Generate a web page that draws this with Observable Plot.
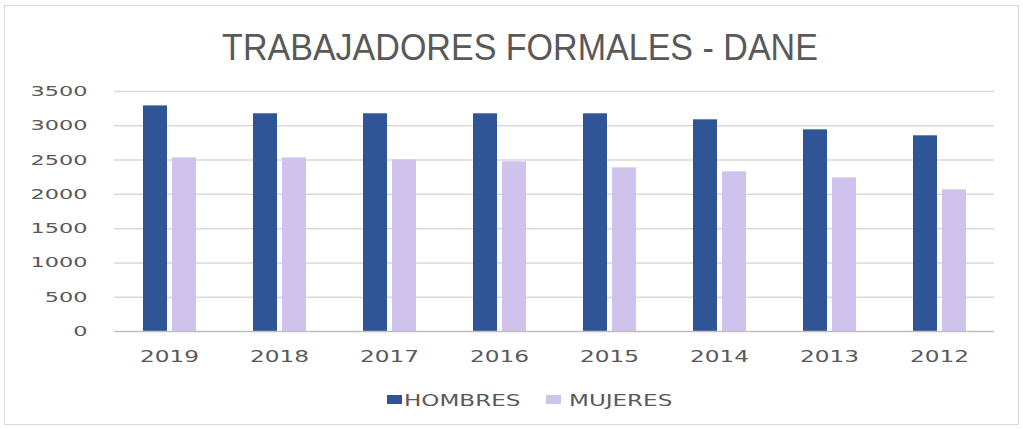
<!DOCTYPE html>
<html>
<head>
<meta charset="utf-8">
<script src="https://cdn.jsdelivr.net/npm/d3@7"></script>
<script src="https://cdn.jsdelivr.net/npm/@observablehq/plot@0.6"></script>
<style>
  html, body { margin: 0; padding: 0; background: #fff; }
  #wrap { position: relative; width: 1023px; height: 429px; overflow: hidden; font-family: "DejaVu Sans", sans-serif; }
  #frame { position: absolute; left: 4px; top: 5px; width: 1013px; height: 418px; border: 1px solid #d9d9d9; }
  #title { position: absolute; left: 0; width: 1040px; top: 29px; line-height: 37px; text-align: center; font-family: "Liberation Sans", Arial, sans-serif; font-size: 37px; color: #595959; transform: scaleX(0.92); transform-origin: 520px 0; white-space: nowrap; }
  #chart { position: absolute; left: 0; top: 0; }
  .sw { position: absolute; width: 15px; height: 9px; top: 395px; }
  .lab { position: absolute; top: 393px; font-size: 16px; line-height: 16px; color: #595959; transform: scaleX(1.44); transform-origin: 0 0; white-space: nowrap; }
</style>
</head>
<body>
<div id="wrap">
  <div id="frame"></div>
  <div id="chart"></div>
  <div id="title">TRABAJADORES FORMALES - DANE</div>
  <div id="legend"></div>
</div>
<script>
const years = ["2019", "2018", "2017", "2016", "2015", "2014", "2013", "2012"];
const hombres = [3290, 3175, 3175, 3175, 3175, 3087, 2941, 2854];
const mujeres = [2533, 2533, 2503, 2475, 2387, 2329, 2241, 2066];
const seriesNames = ["HOMBRES", "MUJERES"];
const seriesColors = ["#2f5597", "#cfc3ee"];
const yTicks = [0, 500, 1000, 1500, 2000, 2500, 3000, 3500];

const data = [];
years.forEach((y, i) => {
  data.push({year: y, serie: seriesNames[0], value: hombres[i]});
  data.push({year: y, serie: seriesNames[1], value: mujeres[i]});
});

const plot = Plot.plot({
  width: 1023,
  height: 429,
  marginTop: 91,
  marginBottom: 98,
  marginLeft: 112,
  marginRight: 27,
  style: {fontFamily: "'DejaVu Sans', sans-serif", fontSize: "14px", color: "#595959", background: "transparent"},
  fx: {domain: years, padding: 0, label: null, tickSize: 0, tickPadding: 20, axis: "bottom"},
  x: {domain: seriesNames, paddingInner: 0.183, paddingOuter: 0.933, axis: null},
  y: {domain: [0, 3500], ticks: yTicks, tickFormat: d3.format("d"), label: null, tickSize: 0, tickPadding: 27},
  color: {domain: seriesNames, range: seriesColors},
  marks: [
    Plot.gridY(yTicks.filter(d => d > 0), {stroke: "#d9d9d9", strokeOpacity: 1, strokeWidth: 1.5}),
    Plot.barY(data, {fx: "year", x: "serie", y: "value", fill: "serie"}),
    Plot.ruleY([0], {stroke: "#bfbfbf", strokeWidth: 1.5})
  ]
});

// stretch tick labels horizontally around their anchor point
function stretch(sel, s, fs) {
  plot.querySelectorAll(sel).forEach(t => {
    const x = parseFloat(t.getAttribute("x") || 0);
    const tr = t.getAttribute("transform") || "";
    t.setAttribute("transform", `${tr} translate(${x},0) scale(${s},1) translate(${-x},0)`);
    if (fs) t.setAttribute("font-size", fs);
  });
}
stretch('g[aria-label="y-axis tick label"] text', 1.6, 14);
stretch('g[aria-label="fx-axis tick label"] text', 1.55, 15);
document.getElementById("chart").appendChild(plot);

const legend = document.getElementById("legend");
const swLeft = [387, 546];
const labLeft = [404, 569];
seriesNames.forEach((s, i) => {
  const sw = document.createElement("div");
  sw.className = "sw";
  sw.style.left = swLeft[i] + "px";
  sw.style.background = seriesColors[i];
  const lab = document.createElement("div");
  lab.className = "lab";
  lab.style.left = labLeft[i] + "px";
  lab.textContent = s;
  legend.appendChild(sw);
  legend.appendChild(lab);
});
</script>
</body>
</html>
